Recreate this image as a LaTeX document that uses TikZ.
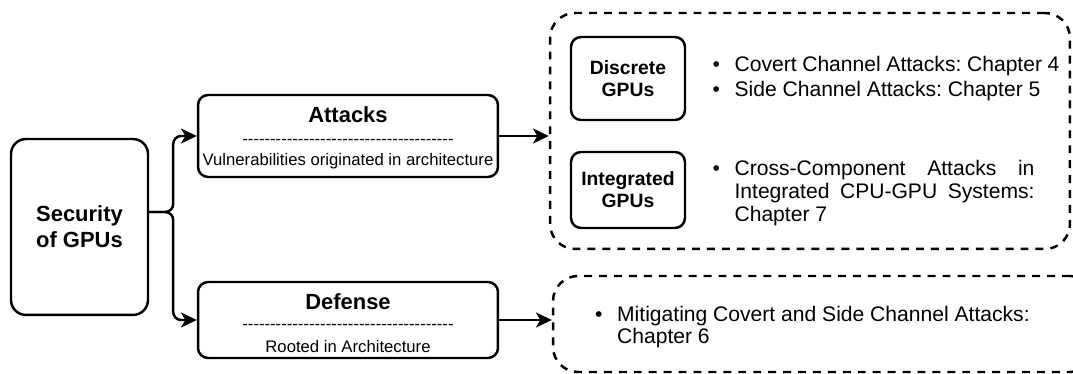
\documentclass[tikz,border=0pt]{standalone}
\usepackage{fontspec}
\setmainfont{Liberation Sans}
\usetikzlibrary{arrows.meta}
\usetikzlibrary{positioning}

\newcommand{\dashrow}{\foreach \k in {1,...,38}{-}}
\newcommand{\gpuitem}[2]{\noindent\makebox[0.44cm][l]{\textbullet}\parbox[t]{#1}{#2}\par}

\tikzset{
  solidbox/.style={draw, line width=1.4pt, rounded corners=0.2cm, align=center},
  groupbox/.style={draw, line width=1.4pt, dash pattern=on 4.5pt off 4pt, rounded corners=0.5cm},
  boxtitle/.style={inner sep=0pt, font=\fontsize{12.5}{14}\selectfont\bfseries},
  boxsub/.style={inner sep=0pt, font=\fontsize{9.5}{11}\selectfont},
  gpubox/.style={solidbox, minimum width=2.28cm, font=\fontsize{11}{12.5}\selectfont\bfseries},
  itemtext/.style={inner sep=0pt, align=justify, font=\fontsize{12}{13}\selectfont\frenchspacing},
  link/.style={line width=1.4pt, -{Stealth[length=9pt, width=8.5pt, inset=2.5pt]}}
}

\begin{document}
\begin{tikzpicture}[line join=round,x=0.02cm,y=-0.02cm]
\useasboundingbox (0,0) rectangle (1073,374);
\clip (0,0) rectangle (1073,374);

% root
\node[solidbox, rounded corners=0.3cm, minimum width=2.74cm, minimum height=3.52cm, font=\fontsize{12.5}{14.7}\selectfont\bfseries] (security) at (79.5,227) {Security\\of GPUs};

% attacks / defense
\node[solidbox, minimum width=6cm, minimum height=1.64cm] (attacks) at (348,136) {};
\node[boxtitle] (atttitle) at (348,115) {Attacks};
\node[boxsub] (attrule) at (348,142) {\dashrow};
\node[boxsub] (attsub) at (348,161) {Vulnerabilities originated in architecture};

\node[solidbox, minimum width=6cm, minimum height=1.52cm] (defense) at (348,320) {};
\node[boxtitle] (deftitle) at (348,302) {Defense};
\node[boxsub] (defrule) at (348,327) {\dashrow};
\node[boxsub] (defsub) at (348,347) {Rooted in Architecture};

% groups on the right
\node[groupbox, minimum width=10.4cm, minimum height=4.72cm] (attgroup) at (810,131) {};
\node[groupbox, minimum width=10.84cm, minimum height=1.92cm] (defgroup) at (824,324) {};

\node[gpubox, minimum height=1.66cm] (discrete) at (628,78.5) {Discrete\\GPUs};
\node[gpubox, minimum height=1.52cm] (integrated) at (628,190) {Integrated\\GPUs};

\node[itemtext, text width=7cm, font=\fontsize{12}{14.2}\selectfont\frenchspacing, right=0.52cm of discrete] (discitems)
  {\gpuitem{6.5cm}{Covert Channel Attacks: Chapter 4}\gpuitem{6.5cm}{Side Channel Attacks: Chapter 5}};
\node[itemtext, text width=6.5cm, right=0.52cm of integrated, yshift=-0.06cm] (intitems)
  {\gpuitem{6cm}{Cross-Component Attacks in\linebreak Integrated CPU-GPU Systems:\linebreak Chapter 7}};
\node[itemtext, text width=9cm, right=0.86cm of defgroup.west, yshift=-0.06cm] (defitems)
  {\gpuitem{8.5cm}{Mitigating Covert and Side Channel Attacks:\newline Chapter 6}};

% connectors
\draw[link, rounded corners=0.16cm] ([yshift=0.3cm]security.east) -- ++(24,0) |- (attacks.west);
\draw[link, rounded corners=0.16cm] ([yshift=0.3cm]security.east) -- ++(24,0) |- (defense.west);
\draw[link] (attacks.east) -- (attacks.east -| attgroup.west);
\draw[link] (defense.east) -- (defense.east -| defgroup.west);
\end{tikzpicture}
\end{document}
